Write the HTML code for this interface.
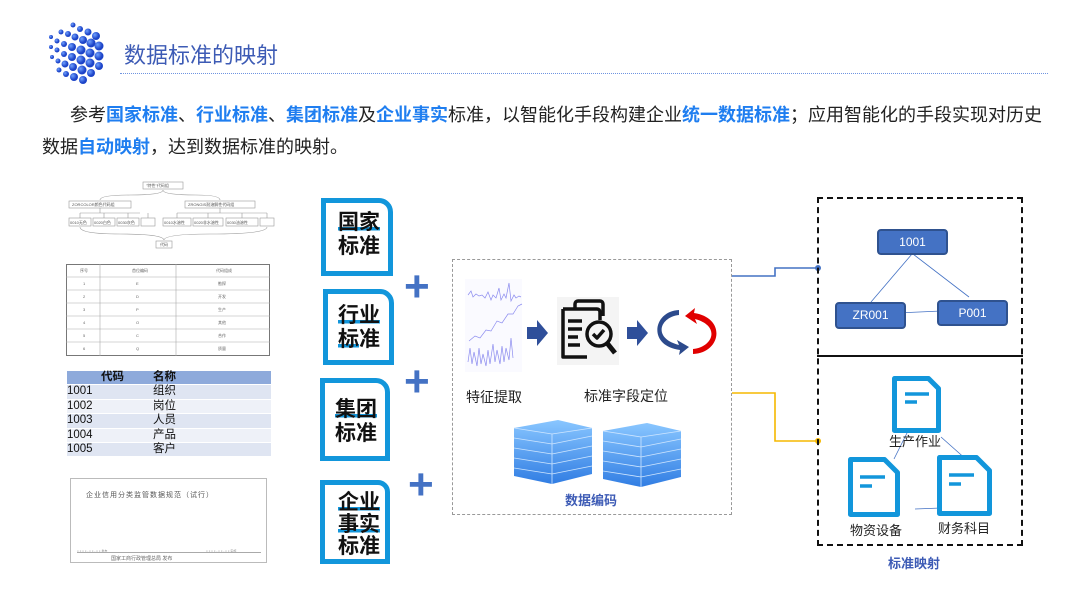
<!DOCTYPE html>
<html><head><meta charset="utf-8"><style>
body{margin:0;width:1080px;height:608px;overflow:hidden;background:#fff;font-family:"Liberation Sans","Noto Sans CJK SC",sans-serif;position:relative}
.a{position:absolute}
.t{white-space:nowrap}
.b{color:#1f7ef0;font-weight:bold}
.std{position:absolute;border:5px solid #1296db;border-top-right-radius:14px;background:#fff;box-sizing:border-box}
.std div{position:absolute;font-weight:bold;font-size:21px;line-height:24px;color:#111;white-space:nowrap}
.hl{background:linear-gradient(transparent 70%,#1296db 70%,#1296db 85%,transparent 85%)}
.plus{position:absolute;color:#4472c4;font-size:44px;font-weight:bold;line-height:30px}
.node{position:absolute;background:#4472c4;border:2px solid #2f528f;border-radius:4px;color:#fff;font-size:12px;text-align:center;box-sizing:border-box}
.lab{position:absolute;font-size:13px;color:#222;white-space:nowrap}
</style></head><body>
<!-- logo -->
<svg class="a" style="left:44px;top:20px" width="66" height="66">
<defs><radialGradient id="g" cx="35%" cy="35%"><stop offset="0" stop-color="#6fa0ff"/><stop offset="1" stop-color="#1d44c8"/></radialGradient></defs>
<g fill="url(#g)">
<circle cx="29" cy="5" r="2.5"/><circle cx="36" cy="9" r="3"/><circle cx="44" cy="12" r="3.5"/><circle cx="52" cy="16" r="4"/>
<circle cx="17" cy="12" r="2.5"/><circle cx="24" cy="14" r="3"/><circle cx="31" cy="17" r="3.5"/><circle cx="39" cy="20" r="4"/><circle cx="47" cy="23" r="4.5"/><circle cx="55" cy="26" r="4.5"/>
<circle cx="7" cy="17" r="2"/><circle cx="13" cy="21" r="2.5"/><circle cx="20" cy="24" r="3"/><circle cx="28" cy="27" r="4"/><circle cx="37" cy="30" r="4.5"/><circle cx="46" cy="33" r="4.5"/><circle cx="55" cy="36" r="4.5"/>
<circle cx="7" cy="27" r="2"/><circle cx="13" cy="30" r="2.5"/><circle cx="20" cy="34" r="3"/><circle cx="28" cy="37" r="4"/><circle cx="37" cy="40" r="4.5"/><circle cx="46" cy="43" r="4.5"/><circle cx="55" cy="46" r="4"/>
<circle cx="8" cy="37" r="2"/><circle cx="14" cy="41" r="2.5"/><circle cx="21" cy="44" r="3.5"/><circle cx="29" cy="47" r="4"/><circle cx="38" cy="50" r="4.5"/><circle cx="47" cy="53" r="4"/>
<circle cx="15" cy="50" r="2.5"/><circle cx="22" cy="54" r="3"/><circle cx="30" cy="57" r="4"/><circle cx="39" cy="60" r="4"/>
</g></svg>
<div class="a t" style="left:124px;top:38px;font-size:22px;color:#3d5bb5">数据标准的映射</div>
<div class="a" style="left:120px;top:73px;width:928px;border-top:1px dotted #6f94e0"></div>
<div class="a t" style="left:70px;top:101px;font-size:18px;letter-spacing:0;color:#222">参考<span class="b">国家标准</span>、<span class="b">行业标准</span>、<span class="b">集团标准</span>及<span class="b">企业事实</span>标准，以智能化手段构建企业<span class="b">统一数据标准</span>；应用智能化的手段实现对历史</div>
<div class="a t" style="left:42px;top:133px;font-size:18px;letter-spacing:0;color:#222">数据<span class="b">自动映射</span>，达到数据标准的映射。</div>

<!-- left pictures -->
<svg class="a" style="left:60px;top:178px" width="220" height="75" font-size="4" fill="#555">
<g stroke="#999" fill="none" stroke-width="0.6">
<rect x="83" y="4" width="40" height="7"/><rect x="9" y="23" width="62" height="7"/><rect x="125" y="23" width="70" height="7"/>
<rect x="9" y="40" width="22" height="8"/><rect x="33" y="40" width="22" height="8"/><rect x="57" y="40" width="22" height="8"/><rect x="81" y="40" width="14" height="8"/>
<rect x="103" y="40" width="28" height="8"/><rect x="133" y="40" width="30" height="8"/><rect x="166" y="40" width="32" height="8"/><rect x="200" y="40" width="14" height="8"/>
<rect x="96" y="63" width="16" height="7"/>
<path d="M40 22 Q40 17 70 17 Q103 17 103 12 Q103 17 136 17 Q160 17 160 22"/>
<path d="M40 30v5M20 35h60M20 35v5M44 35v5M68 35v5M88 35v5M160 30v5M117 35h90M117 35v5M148 35v5M182 35v5M207 35v5"/>
<path d="M20 49 Q20 56 60 56 Q103 56 104 62 Q105 56 150 56 Q207 56 207 49"/>
</g>
<text x="86" y="9">"特性"代码组</text><text x="12" y="28">ZORCOLOR颜色代码组</text><text x="128" y="28">ZRONGIS耐溶解性代码组</text>
<text x="10" y="46">0010无色</text><text x="34" y="46">0020白色</text><text x="58" y="46">0030灰色</text><text x="104" y="46">0010水溶性</text><text x="134" y="46">0020非水溶性</text><text x="167" y="46">0030油溶性</text><text x="100" y="68">代码</text>
</svg>
<svg class="a" style="left:66px;top:264px" width="206" height="92" font-size="4" fill="#666">
<rect x="0.5" y="0.5" width="203" height="91" fill="none" stroke="#777"/>
<g stroke="#aaa" stroke-width="0.6"><path d="M34 0v92M110 0v92"/><path d="M0 13h204M0 26h204M0 39h204M0 52h204M0 65h204M0 78h204"/></g>
<text x="14" y="8">序号</text><text x="66" y="8">首位编码</text><text x="150" y="8">代码组成</text>
<text x="17" y="21">1</text><text x="70" y="21">E</text><text x="152" y="21">勘探</text>
<text x="17" y="34">2</text><text x="70" y="34">D</text><text x="152" y="34">开发</text>
<text x="17" y="47">3</text><text x="70" y="47">P</text><text x="152" y="47">生产</text>
<text x="17" y="60">4</text><text x="70" y="60">O</text><text x="152" y="60">其他</text>
<text x="17" y="73">5</text><text x="70" y="73">C</text><text x="152" y="73">合作</text>
<text x="17" y="86">6</text><text x="70" y="86">Q</text><text x="152" y="86">质量</text>
</svg>
<div class="a" style="left:67px;top:371px;width:204px;font-size:11.5px;line-height:13.4px;color:#111">
<div style="background:#8eaadb;font-weight:bold;display:flex"><span style="width:52px;padding-left:34px">代码</span><span>名称</span></div>
<div style="background:#dfe5f2;display:flex;margin-top:1px"><span style="width:86px">1001</span><span>组织</span></div>
<div style="background:#eef1f8;display:flex;margin-top:1px"><span style="width:86px">1002</span><span>岗位</span></div>
<div style="background:#dfe5f2;display:flex;margin-top:1px"><span style="width:86px">1003</span><span>人员</span></div>
<div style="background:#eef1f8;display:flex;margin-top:1px"><span style="width:86px">1004</span><span>产品</span></div>
<div style="background:#dfe5f2;display:flex;margin-top:1px"><span style="width:86px">1005</span><span>客户</span></div>
</div>
<div class="a" style="left:70px;top:478px;width:197px;height:85px;border:1px solid #bbb;box-sizing:border-box">
<div class="a t" style="left:15px;top:11px;font-size:7px;color:#555;letter-spacing:1px">企业信用分类监管数据规范（试行）</div>
<div class="a t" style="left:6px;top:70px;font-size:3px;color:#888">× × × × - × × - × × 发布</div>
<div class="a t" style="left:135px;top:70px;font-size:3px;color:#888">× × × × - × × - × × 实施</div>
<div class="a" style="left:6px;top:73px;width:184px;border-top:1px solid #aaa"></div>
<div class="a t" style="left:40px;top:76px;font-size:5px;color:#666">国家工商行政管理总局 发布</div>
</div>

<!-- standards -->
<div class="std" style="left:321px;top:198px;width:72px;height:78px"><div style="left:12px;top:8px"><span class="hl">国家</span><br>标准</div></div>
<div class="std" style="left:323px;top:289px;width:71px;height:76px"><div style="left:10px;top:10px"><span class="hl">行业</span><br><span class="hl">标</span>准</div></div>
<div class="std" style="left:320px;top:378px;width:70px;height:83px"><div style="left:10px;top:15px"><span class="hl">集团</span><br>标准</div></div>
<div class="std" style="left:320px;top:480px;width:70px;height:84px;border-top-right-radius:12px"><div style="left:13px;top:7px;line-height:22px"><span class="hl">企业</span><br><span class="hl">事实</span><br>标准</div></div>
<div class="plus" style="left:404px;top:272px">+</div>
<div class="plus" style="left:404px;top:367px">+</div>
<div class="plus" style="left:408px;top:470px">+</div>

<!-- middle dashed box -->
<div class="a" style="left:452px;top:259px;width:280px;height:256px;border:1px dashed #999;box-sizing:border-box"></div>
<svg class="a" style="left:465px;top:279px" width="58" height="94">
<rect x="0" y="0" width="57" height="93" fill="#fafaff"/>
<g fill="none" stroke="#8b8bef" stroke-width="0.7">
<path d="M3 16l3 -4 2 6 3-3 3 2 3-1 3 3 3-6 3 8 2-5 3 3 3-10 2 12 3-6 2 4 3-15 2 18 3-6 2 3 3-2 2 1"/>
<path d="M4 62l6-5 5 2 6-8 5 1 6-10 5 2 6-9 5 0 5-8 4-2"/>
<path d="M3 83l2-14 2 16 2-12 3 14 2-18 2 16 2-10 3 12 2-16 2 14 3-20 2 18 2-12 3 14 2-18 2 16 2-14 3 12 2-22 2 20"/>
</g></svg>
<svg class="a" style="left:527px;top:320px" width="22" height="26"><path d="M0 7h10v-7l11 13-11 13v-7h-10z" fill="#2f4f9a"/></svg>
<svg class="a" style="left:557px;top:297px" width="62" height="68">
<rect width="62" height="68" fill="#f4f4f4"/>
<g fill="none" stroke="#111" stroke-width="3.5" stroke-linejoin="round">
<path d="M18 12v-5a3 3 0 0 1 3-3h22a3 3 0 0 1 3 3v12"/>
<path d="M6 12h34a3 3 0 0 1 3 3v8M30 60h-24v-48"/>
<path d="M11 24h14M11 32h14M11 40h10M11 48h12"/>
<circle cx="42" cy="37" r="12"/><path d="M36 37l4 4 7-8"/><path d="M50 46l8 10" stroke-width="5"/></g></svg>
<svg class="a" style="left:627px;top:320px" width="22" height="26"><path d="M0 7h10v-7l11 13-11 13v-7h-10z" fill="#2f4f9a"/></svg>
<svg class="a" style="left:655px;top:308px" width="64" height="48">
<path d="M24 7 C5 9 -3 30 24 37 L22 32 L34 39 L24 47 L25 42 C-8 38 -2 3 24 2z" fill="#2c4a8c"/>
<path d="M38 41 C58 39 66 18 40 11 L42 16 L30 8 L40 0 L39 5 C72 10 66 45 38 46z" fill="#e00000"/>
</svg>
<div class="lab" style="left:466px;top:387px;font-size:14px">特征提取</div>
<div class="lab" style="left:584px;top:386px;font-size:14px">标准字段定位</div>
<svg class="a" style="left:512px;top:418px" width="172" height="72">
<defs><linearGradient id="c" x1="0" y1="0" x2="0" y2="1"><stop offset="0" stop-color="#7cc0ff"/><stop offset="1" stop-color="#1a6fe0"/></linearGradient></defs>
<g id="cube"><path d="M2 10l44-8 34 8v46l-40 10-38-8z" fill="url(#c)" opacity="0.9"/>
<g stroke="#cfe6ff" stroke-width="0.8" fill="none"><path d="M2 20l38 6 40-8M2 30l38 6 40-8M2 40l38 6 40-8M2 50l38 6 40-8M2 10l38 6 40-6M40 16v50"/></g></g>
<use href="#cube" x="89" y="3"/>
</svg>
<div class="a t" style="left:565px;top:490px;font-size:13px;font-weight:bold;color:#3d5bb5">数据编码</div>

<!-- connectors -->
<svg class="a" style="left:730px;top:260px" width="95" height="190">
<path d="M2 16h43v-8h43" fill="none" stroke="#4472c4" stroke-width="1.6"/><circle cx="88" cy="8" r="3" fill="#4472c4"/>
<path d="M2 133h43v48h43" fill="none" stroke="#f5b800" stroke-width="1.6"/><circle cx="88" cy="181" r="3" fill="#f5b800"/>
</svg>

<!-- right box -->
<div class="a" style="left:817px;top:197px;width:206px;height:349px;border:2px dashed #111;box-sizing:border-box"></div>
<div class="a" style="left:817px;top:355px;width:206px;border-top:2px solid #111"></div>
<svg class="a" style="left:817px;top:197px" width="206" height="349">
<g stroke="#4472c4" stroke-width="0.8" fill="none"><path d="M95 57L54 105M96 57L152 100M59 117L124 114"/>
<path d="M93 230L77 262M124 240L151 264M98 312L150 310"/></g>
</svg>
<div class="node" style="left:877px;top:229px;width:71px;height:26px;line-height:22px">1001</div>
<div class="node" style="left:835px;top:302px;width:71px;height:27px;line-height:23px">ZR001</div>
<div class="node" style="left:937px;top:300px;width:71px;height:26px;line-height:22px">P001</div>
<svg class="a" style="left:890px;top:375px" width="110" height="142">
<defs><g id="doc"><path d="M2.5 2.5h34l10 10v42h-44z" fill="#fff" stroke="#1296db" stroke-width="5" stroke-linejoin="round"/><path d="M13 18h24M13 26h12" stroke="#1296db" stroke-width="3.5"/></g></defs>
<use href="#doc" x="2" y="1"/>
</svg>
<svg class="a" style="left:848px;top:457px" width="60" height="60"><path d="M2.5 2.5h34l13 13v42h-47z" fill="#fff" stroke="#1296db" stroke-width="5" stroke-linejoin="round"/><path d="M12 20h25M12 29h12" stroke="#1296db" stroke-width="3.5"/></svg>
<svg class="a" style="left:937px;top:455px" width="60" height="62"><path d="M2.5 2.5h37l13 13v43h-50z" fill="#fff" stroke="#1296db" stroke-width="5" stroke-linejoin="round"/><path d="M12 20h25M12 29h12" stroke="#1296db" stroke-width="3.5"/></svg>
<div class="lab" style="left:889px;top:431px">生产作业</div>
<div class="lab" style="left:850px;top:520px">物资设备</div>
<div class="lab" style="left:938px;top:518px">财务科目</div>
<div class="a t" style="left:888px;top:553px;font-size:13px;font-weight:bold;color:#3d5bb5">标准映射</div>
</body></html>
